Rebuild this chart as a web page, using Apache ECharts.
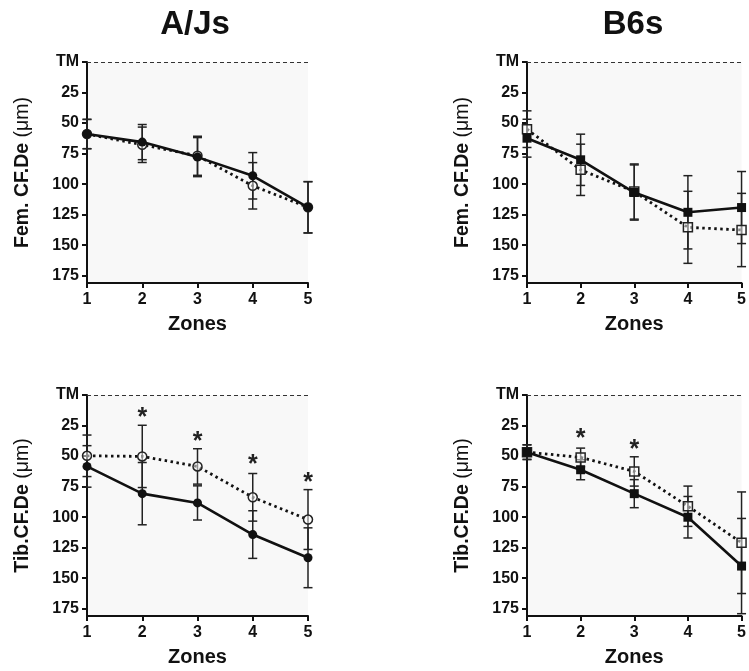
<!DOCTYPE html>
<html>
<head>
<meta charset="utf-8">
<script src="https://cdn.jsdelivr.net/npm/echarts@6/dist/echarts.min.js"></script>
<style>
  html, body { margin: 0; padding: 0; background: #fff; }
  #container { width: 749px; height: 671px; }
</style>
</head>
<body>
<div id="container"></div>
<script>
// x axis: zones
const zones = [1, 2, 3, 4, 5];
// y axis ticks (0 is shown as TM)
const yTicks = [0, 25, 50, 75, 100, 125, 150, 175];

// A/Js femur
const ajFemSolid = [59, 65.6, 77.9, 93.2, 119];
const ajFemSolidErr = [12, 14.4, 16, 19, 21];
const ajFemOpen = [59, 67.8, 76.8, 101.4, 119];
const ajFemOpenErr = [12, 14.5, 16, 19, 21];

// B6s femur
const b6FemSolid = [62.4, 80.1, 106.9, 123.1, 119.2];
const b6FemSolidErr = [15.5, 21, 22.6, 30, 29.5];
const b6FemOpen = [55, 88.3, 106.1, 135.4, 137.6];
const b6FemOpenErr = [15, 21, 22.6, 29.5, 30];

// A/Js tibia
const ajTibSolid = [58.5, 80.8, 88.4, 114.3, 133.3];
const ajTibSolidErr = [17, 25.5, 14, 19.5, 24.5];
const ajTibOpen = [49.8, 50.3, 58.5, 83.8, 102];
const ajTibOpenErr = [17, 25.5, 14.5, 19.5, 24.5];

// B6s tibia
const b6TibSolid = [46.8, 61.2, 80.8, 100.1, 140.1];
const b6TibSolidErr = [6, 8.2, 11.5, 17, 39];
const b6TibOpen = [46.8, 51.1, 62.6, 91.1, 121];
const b6TibOpenErr = [6, 7.6, 12, 16.5, 41.6];

// significance stars
const ajTibStarZones = [2, 3, 4, 5];
const ajTibStarY = [14.7, 34.3, 53, 67.7];
const b6TibStarZones = [2, 3];
const b6TibStarY = [32, 40.8];

const titles = ['A/Js', 'B6s'];
const FONT = 'Liberation Sans, Arial, sans-serif';
const INK = '#111';

const panels = [
  { yName: 'Fem. CF.De ', solid: ajFemSolid, solidErr: ajFemSolidErr, open: ajFemOpen, openErr: ajFemOpenErr, mark: 'circle', starX: [], starY: [] },
  { yName: 'Fem. CF.De ', solid: b6FemSolid, solidErr: b6FemSolidErr, open: b6FemOpen, openErr: b6FemOpenErr, mark: 'rect', starX: [], starY: [] },
  { yName: 'Tib.CF.De ', solid: ajTibSolid, solidErr: ajTibSolidErr, open: ajTibOpen, openErr: ajTibOpenErr, mark: 'circle', starX: ajTibStarZones, starY: ajTibStarY },
  { yName: 'Tib.CF.De ', solid: b6TibSolid, solidErr: b6TibSolidErr, open: b6TibOpen, openErr: b6TibOpenErr, mark: 'rect', starX: b6TibStarZones, starY: b6TibStarY }
];

// grid boxes, in pixels
const gridBoxes = [
  { left: 87, top: 62, width: 221, height: 221 },
  { left: 527, top: 62, width: 221, height: 221 },
  { left: 87, top: 395, width: 221, height: 221 },
  { left: 527, top: 395, width: 221, height: 221 }
];

// error bar: vertical line with two caps
function renderErrorBar(params, api) {
  const x = api.value(0);
  const top = api.coord([x, api.value(1)]);
  const bottom = api.coord([x, api.value(2)]);
  const half = 4.5;
  const style = { stroke: '#222', lineWidth: 1.5 };
  return {
    type: 'group',
    children: [
      { type: 'line', shape: { x1: top[0], y1: top[1], x2: bottom[0], y2: bottom[1] }, style: style },
      { type: 'line', shape: { x1: top[0] - half, y1: top[1], x2: top[0] + half, y2: top[1] }, style: style },
      { type: 'line', shape: { x1: bottom[0] - half, y1: bottom[1], x2: bottom[0] + half, y2: bottom[1] }, style: style }
    ]
  };
}

// asterisk marks
function renderStar(params, api) {
  const pt = api.coord([api.value(0), api.value(1)]);
  return {
    type: 'text',
    x: pt[0],
    y: pt[1] + 5,
    style: {
      text: '*',
      font: 'bold 25px ' + FONT,
      fill: '#222',
      align: 'center',
      verticalAlign: 'middle'
    }
  };
}

function errData(vals, errs) {
  return zones.map((z, k) => [z, vals[k] - errs[k], vals[k] + errs[k]]);
}

function buildOption() {
  const grid = [];
  const xAxis = [];
  const yAxis = [];
  const series = [];

  panels.forEach((p, i) => {
    grid.push(Object.assign({ show: true, backgroundColor: '#f8f8f8', borderWidth: 0 }, gridBoxes[i]));

    xAxis.push({
      gridIndex: i,
      type: 'value',
      min: 1,
      max: 5,
      interval: 1,
      name: 'Zones',
      nameLocation: 'middle',
      nameGap: 31,
      nameTextStyle: { fontFamily: FONT, fontWeight: 'bold', fontSize: 20, color: INK },
      axisLine: { onZero: false, lineStyle: { color: INK, width: 2 } },
      axisTick: { show: true, length: 5, lineStyle: { color: INK, width: 2 } },
      axisLabel: { margin: 9, fontFamily: FONT, fontWeight: 'bold', fontSize: 16, color: INK },
      splitLine: { show: false }
    });

    yAxis.push({
      gridIndex: i,
      type: 'value',
      inverse: true,
      min: 0,
      max: 181,
      interval: 25,
      name: '{b|' + p.yName + '}{n|(μm)}',
      nameLocation: 'middle',
      nameRotate: 90,
      nameGap: 54,
      nameTextStyle: {
        rich: {
          b: { fontFamily: FONT, fontWeight: 'bold', fontSize: 19.5, color: INK },
          n: { fontFamily: FONT, fontWeight: 'normal', fontSize: 19.5, color: INK }
        }
      },
      axisLine: { onZero: false, lineStyle: { color: INK, width: 2 } },
      axisTick: { show: true, length: 5, customValues: yTicks, lineStyle: { color: INK, width: 2 } },
      axisLabel: {
        margin: 8,
        customValues: yTicks,
        fontFamily: FONT,
        fontWeight: 'bold',
        fontSize: 16,
        color: INK,
        formatter: v => (v === 0 ? 'TM' : String(v))
      },
      splitLine: { show: false }
    });

    // error bars
    series.push({
      type: 'custom', xAxisIndex: i, yAxisIndex: i, z: 2, clip: false,
      renderItem: renderErrorBar, encode: { x: 0, y: [1, 2] },
      data: errData(p.open, p.openErr)
    });
    series.push({
      type: 'custom', xAxisIndex: i, yAxisIndex: i, z: 2, clip: false,
      renderItem: renderErrorBar, encode: { x: 0, y: [1, 2] },
      data: errData(p.solid, p.solidErr)
    });

    // dotted line, open markers
    series.push({
      type: 'line', xAxisIndex: i, yAxisIndex: i, z: 3,
      data: zones.map((z, k) => [z, p.open[k]]),
      symbol: p.mark, symbolSize: 9,
      itemStyle: { color: 'rgba(255,255,255,0.5)', borderColor: '#222', borderWidth: 1.5 },
      lineStyle: { color: '#111', width: 2.8, type: [2.5, 3.5] },
      markLine: {
        silent: true, symbol: 'none', animation: false,
        label: { show: false },
        lineStyle: { color: '#333', width: 1, type: [4, 3] },
        data: [{ yAxis: 0 }]
      },
      animation: false
    });

    // solid line, filled markers
    series.push({
      type: 'line', xAxisIndex: i, yAxisIndex: i, z: 4,
      data: zones.map((z, k) => [z, p.solid[k]]),
      symbol: p.mark, symbolSize: 9,
      itemStyle: { color: '#111', borderWidth: 0 },
      lineStyle: { color: '#111', width: 2.6 },
      animation: false
    });

    if (p.starX.length > 0) {
      series.push({
        type: 'custom', xAxisIndex: i, yAxisIndex: i, z: 5, clip: false,
        renderItem: renderStar, encode: { x: 0, y: 1 },
        data: p.starX.map((z, k) => [z, p.starY[k]])
      });
    }
  });

  return {
    animation: false,
    backgroundColor: '#fff',
    title: [
      { text: titles[0], left: 190, top: 3, textAlign: 'center', textStyle: { fontFamily: FONT, fontWeight: 'bold', fontSize: 33, color: INK } },
      { text: titles[1], left: 628, top: 3, textAlign: 'center', textStyle: { fontFamily: FONT, fontWeight: 'bold', fontSize: 33, color: INK } }
    ],
    grid: grid,
    xAxis: xAxis,
    yAxis: yAxis,
    series: series
  };
}

const myChart = echarts.init(document.getElementById('container'));
myChart.setOption(buildOption());
</script>
</body>
</html>
